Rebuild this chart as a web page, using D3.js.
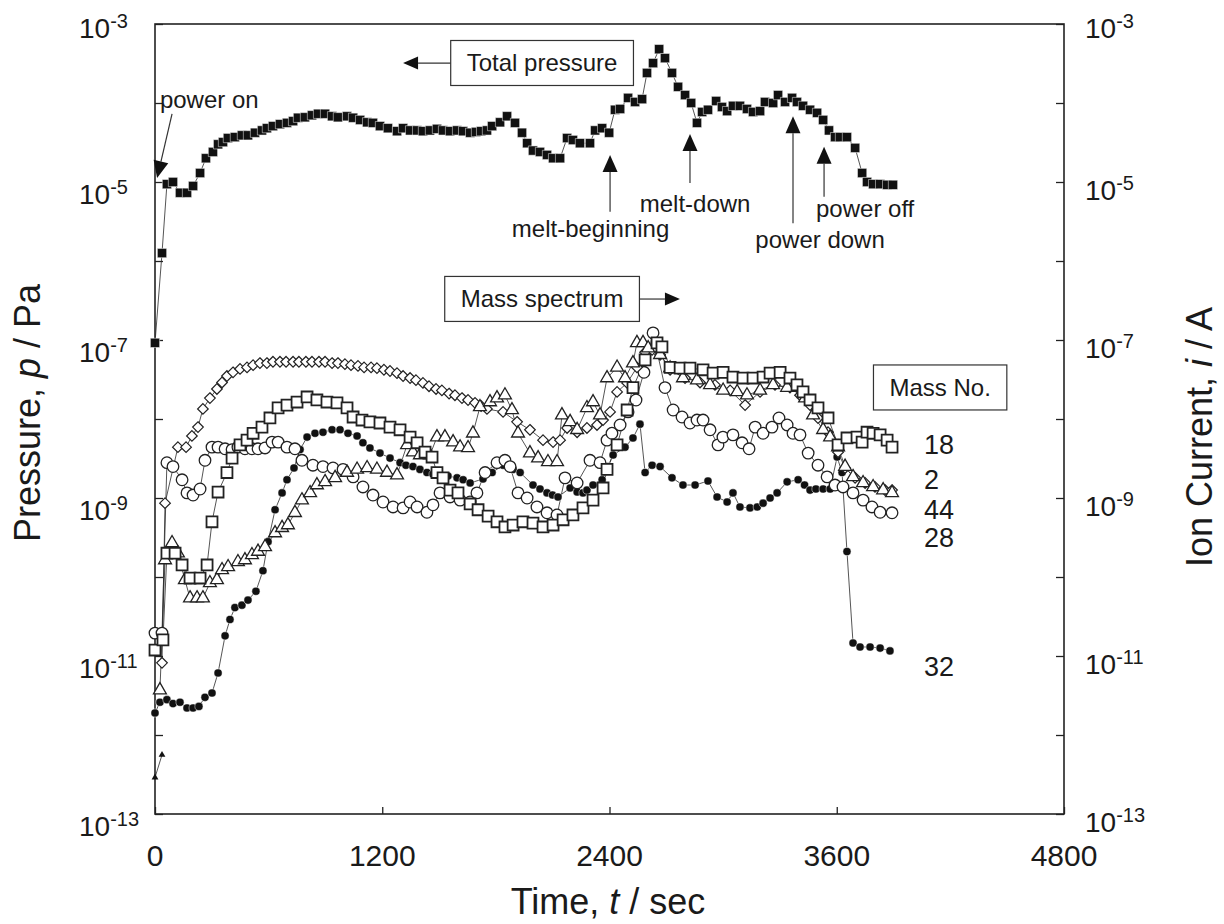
<!DOCTYPE html>
<html lang="en">
<head>
<meta charset="utf-8">
<script src="https://d3js.org/d3.v7.min.js"></script>
<style>
  body { margin:0; background:#fff; font-family:"Liberation Sans", Arial, Helvetica, sans-serif; }
  svg { display:block; background:#fff; }
  text { fill:#1a1a1a; }
  .frame { fill:none; stroke:#222; stroke-width:1.6; }
  .axis .domain { display:none; }
  .axis .tick line { stroke:#222; stroke-width:1.3; }
  .series-line { fill:none; stroke:#2a2a2a; stroke-width:0.8; }
  .note-line { stroke:#333; stroke-width:1.2; fill:none; }
  .note-head { fill:#111; stroke:none; }
  .box { fill:#fff; stroke:#333; stroke-width:1.2; }
</style>
</head>
<body>
<script>
// ---- data (time in s, pressure in Pa, ion current in A) ----
var totalT = [0,37,63,95,132,169,201,238,269,306,333,359,385,422,459,491,528,565,591,623,660,697,729,755,792,829,861,898,935,966,1014,1046,1083,1120,1151,1188,1230,1278,1310,1347,1384,1415,1452,1489,1521,1558,1595,1627,1664,1695,1722,1753,1780,1822,1859,1901,1938,1965,1996,2033,2070,2102,2139,2176,2207,2244,2297,2324,2361,2398,2429,2456,2498,2535,2572,2598,2630,2662,2693,2730,2762,2799,2831,2862,2889,2920,2963,2994,3021,3052,3089,3126,3158,3195,3221,3264,3290,3327,3364,3390,3422,3459,3496,3528,3559,3591,3617,3654,3697,3734,3760,3792,3829,3866,3897];
var totalP = [9.2e-8,1.26e-6,9.4e-6,1.0e-5,7.3e-6,7.3e-6,8.9e-6,1.3e-5,2.0e-5,2.4e-5,
  3.0e-5,3.2e-5,3.6e-5,3.7e-5,3.9e-5,3.9e-5,4.2e-5,4.5e-5,4.8e-5,5.1e-5,
  5.4e-5,5.6e-5,5.9e-5,6.5e-5,6.6e-5,7.0e-5,7.3e-5,7.3e-5,6.8e-5,6.6e-5,
  6.8e-5,6.5e-5,6.1e-5,5.7e-5,5.6e-5,5.1e-5,4.8e-5,4.4e-5,4.8e-5,4.5e-5,
  4.5e-5,4.4e-5,4.5e-5,4.7e-5,4.5e-5,4.4e-5,4.5e-5,4.4e-5,4.2e-5,4.3e-5,
  4.4e-5,4.5e-5,5.1e-5,5.7e-5,6.8e-5,5.6e-5,4.2e-5,3.1e-5,2.5e-5,2.4e-5,
  2.2e-5,2.0e-5,2.0e-5,3.6e-5,3.4e-5,3.1e-5,3.1e-5,4.5e-5,4.8e-5,4.2e-5,
  8.2e-5,8.4e-5,1.16e-4,1.03e-4,1.12e-4,2.4e-4,3.2e-4,4.8e-4,3.7e-4,2.4e-4,
  1.6e-4,1.26e-4,1.0e-4,5.6e-5,7.7e-5,8.2e-5,1.06e-4,8.9e-5,7.9e-5,9.2e-5,
  9.2e-5,8.4e-5,7.7e-5,7.9e-5,1.03e-4,1.0e-4,1.26e-4,1.03e-4,1.16e-4,1.03e-4,
  9.2e-5,8.2e-5,7.5e-5,6.1e-5,4.5e-5,3.7e-5,3.7e-5,3.7e-5,2.7e-5,1.3e-5,
  1.0e-5,9.4e-6,9.4e-6,9.2e-6,9.2e-6];

// mass 18 (open squares)
var m18T = [0,42,63,106,143,185,238,275,301,333,380,407,449,486,518,565,607,650,697,750,803,855,908,961,1014,1046,1093,1135,1188,1241,1294,1347,1384,1426,1463,1489,1521,1558,1600,1664,1706,1759,1806,1848,1891,1943,1996,2049,2102,2155,2207,2260,2313,2366,2387,2440,2493,2524,2588,2651,2677,2720,2773,2825,2894,2947,3000,3052,3105,3158,3211,3248,3301,3353,3390,3422,3459,3501,3554,3607,3654,3707,3734,3760,3792,3829,3866,3892];
var m18I = [1.19e-11,1.6e-11,2.0e-10,2.0e-10,1.42e-10,9.7e-11,9.7e-11,1.42e-10,5.0e-10,1.19e-9,2.1e-9,3.2e-9,4.7e-9,5.4e-9,6.6e-9,7.9e-9,1.03e-8,1.38e-8,1.5e-8,1.64e-8,1.9e-8,1.74e-8,1.64e-8,1.6e-8,1.38e-8,1.06e-8,9.7e-9,9.2e-9,8.9e-9,7.9e-9,7.3e-9,5.9e-9,5.0e-9,3.8e-9,3.3e-9,2.1e-9,1.8e-9,1.26e-9,1.16e-9,8.4e-10,7.1e-10,5.9e-10,5.0e-10,4.3e-10,4.55e-10,5.0e-10,4.8e-10,4.3e-10,4.55e-10,5.3e-10,6.1e-10,7.5e-10,9.4e-10,1.34e-9,2.3e-9,4.7e-9,1.3e-8,2.5e-8,5.6e-8,9.2e-8,8.2e-8,4.5e-8,4.4e-8,4.4e-8,4.2e-8,3.8e-8,3.9e-8,3.4e-8,3.3e-8,3.3e-8,3.4e-8,3.8e-8,3.9e-8,3.3e-8,2.7e-8,2.2e-8,1.74e-8,1.38e-8,1.03e-8,4.7e-9,5.75e-9,5.9e-9,5.1e-9,6.8e-9,6.6e-9,6.3e-9,5.4e-9,4.4e-9];

// mass 2 (open diamonds)
var m2T = [37,53,121,164,195,227,253,290,327,354,380,412,449,486,518,554,591,623,660,692,729,760,797,829,866,898,935,966,1003,1035,1072,1104,1141,1172,1209,1241,1278,1310,1347,1378,1415,1447,1484,1515,1553,1584,1621,1653,1690,1722,1753,1838,1912,1980,2049,2102,2139,2176,2229,2281,2334,2366,2403,2440,2493,2545,2588,2625,2667,2720,2799,2878,2957,3037,3116,3195,3274,3353,3406,3459,3501,3554,3607,3644,3697,3750,3802,3855,3892];
var m2I = [8.2e-12,8.6e-10,4.4e-9,4.4e-9,6.1e-9,7.9e-9,1.34e-8,1.84e-8,2.4e-8,2.9e-8,3.5e-8,3.9e-8,4.3e-8,4.5e-8,4.8e-8,5.1e-8,5.1e-8,5.3e-8,5.3e-8,5.3e-8,5.3e-8,5.3e-8,5.3e-8,5.3e-8,5.3e-8,5.3e-8,5.1e-8,5.1e-8,4.95e-8,4.8e-8,4.7e-8,4.5e-8,4.5e-8,4.4e-8,4.2e-8,4.05e-8,3.8e-8,3.5e-8,3.3e-8,3.1e-8,2.86e-8,2.6e-8,2.4e-8,2.3e-8,2.1e-8,2.0e-8,1.84e-8,1.74e-8,1.6e-8,1.46e-8,1.34e-8,1.23e-8,9.2e-9,7.3e-9,5.4e-9,5.1e-9,5.4e-9,7.7e-9,6.8e-9,7.7e-9,8.4e-9,9.7e-9,1.23e-8,2.2e-8,2.86e-8,4.5e-8,7.0e-8,7.5e-8,6.5e-8,4.2e-8,3.3e-8,2.9e-8,2.7e-8,2.3e-8,1.5e-8,2.2e-8,2.7e-8,2.5e-8,2.0e-8,1.5e-8,1.03e-8,6.8e-9,3.8e-9,2.4e-9,1.8e-9,1.55e-9,1.38e-9,1.26e-9,1.26e-9];

// mass 44 (open triangles)
var m44T = [26,53,90,121,158,185,222,253,290,327,354,386,438,475,512,544,581,634,671,702,739,776,819,855,898,951,1014,1067,1120,1172,1225,1278,1331,1362,1399,1452,1489,1531,1574,1611,1653,1679,1716,1769,1806,1848,1885,1917,1980,2023,2075,2123,2149,2192,2229,2281,2313,2350,2387,2440,2482,2524,2545,2577,2604,2667,2720,2788,2862,2931,3000,3074,3126,3195,3264,3338,3396,3433,3475,3528,3565,3607,3644,3686,3739,3792,3845,3892];
var m44I = [3.7e-12,1.64e-10,2.7e-10,2.0e-10,9.2e-11,5.4e-11,5.4e-11,5.4e-11,8.4e-11,9.2e-11,1.23e-10,1.34e-10,1.55e-10,1.64e-10,1.9e-10,2.1e-10,2.4e-10,3.6e-10,4.2e-10,4.55e-10,6.5e-10,9.4e-10,1.16e-9,1.46e-9,1.6e-9,1.8e-9,2.1e-9,2.3e-9,2.4e-9,2.3e-9,2.1e-9,1.95e-9,4.7e-9,3.8e-9,3.5e-9,3.5e-9,5.9e-9,5.9e-9,5.1e-9,4.4e-9,4.3e-9,6.6e-9,1.42e-8,1.64e-8,1.84e-8,2.0e-8,1.3e-8,6.6e-9,3.7e-9,3.2e-9,2.86e-9,2.86e-9,1.12e-8,9.2e-9,7.3e-9,1.38e-8,1.64e-8,1.12e-8,3.3e-8,4.5e-8,3.3e-8,5.1e-8,9.2e-8,9.2e-8,7.9e-8,6.5e-8,4.4e-8,3.3e-8,3.1e-8,2.7e-8,2.3e-8,2.2e-8,2.0e-8,2.3e-8,2.7e-8,2.5e-8,2.5e-8,1.84e-8,1.12e-8,7.3e-9,5.9e-9,4.4e-9,2.5e-9,1.85e-9,1.55e-9,1.38e-9,1.26e-9,1.16e-9];

// mass 28 (open circles)
var m28T = [0,37,63,95,143,169,201,238,264,301,333,370,407,438,475,512,544,581,618,650,697,739,776,834,887,940,993,1046,1098,1151,1204,1257,1310,1347,1384,1436,1468,1505,1558,1611,1664,1700,1743,1806,1848,1875,1917,1965,2017,2070,2123,2165,2229,2297,2350,2387,2413,2456,2498,2540,2582,2630,2693,2736,2783,2825,2862,2894,2931,2973,2999,3052,3100,3137,3169,3211,3258,3295,3338,3369,3406,3449,3501,3549,3591,3633,3686,3739,3786,3829,3892];
var m28I = [1.95e-11,1.95e-11,2.8e-9,2.5e-9,1.7e-9,1.16e-9,1.09e-9,1.3e-9,3.0e-9,4.4e-9,4.4e-9,4.2e-9,4.1e-9,4.4e-9,4.2e-9,4.2e-9,4.2e-9,4.3e-9,5.1e-9,5.1e-9,4.4e-9,4.2e-9,3.0e-9,2.6e-9,2.5e-9,2.4e-9,2.3e-9,1.85e-9,1.38e-9,1.09e-9,8.9e-10,7.7e-10,7.5e-10,8.9e-10,7.7e-10,6.6e-10,8.2e-10,1.16e-9,1.03e-9,9.4e-10,8.9e-10,1.16e-9,2.1e-9,2.8e-9,3.0e-9,2.5e-9,1.16e-9,1.0e-9,7.7e-10,6.5e-10,6.1e-10,1.8e-9,1.55e-9,3.0e-9,2.8e-9,5.4e-9,6.6e-9,8.4e-9,1.23e-8,1.74e-8,3.9e-8,1.23e-7,2.5e-8,1.3e-8,1.06e-8,8.9e-9,9.7e-9,9.7e-9,7.3e-9,4.7e-9,5.9e-9,6.3e-9,5.0e-9,4.2e-9,7.9e-9,6.6e-9,7.9e-9,1.03e-8,8.4e-9,6.6e-9,6.3e-9,3.7e-9,2.6e-9,1.85e-9,1.46e-9,1.38e-9,1.16e-9,9.4e-10,7.7e-10,6.6e-10,6.5e-10];

// mass 32 (filled circles)
var m32T = [0,26,63,95,132,169,201,232,264,301,333,370,396,422,459,491,533,570,597,634,671,697,734,766,803,845,887,935,977,1019,1067,1098,1135,1188,1241,1294,1325,1362,1399,1436,1468,1505,1547,1595,1627,1664,1732,1780,1838,1891,1928,1996,2033,2070,2099,2128,2192,2229,2260,2281,2313,2361,2392,2419,2482,2524,2561,2588,2625,2667,2730,2788,2852,2920,2968,3021,3052,3089,3142,3180,3211,3248,3285,3338,3396,3430,3459,3490,3528,3565,3602,3628,3654,3686,3723,3776,3829,3881];
var m32I = [1.9e-12,2.6e-12,2.8e-12,2.5e-12,2.6e-12,2.2e-12,2.2e-12,2.3e-12,3.0e-12,3.4e-12,6.1e-12,1.8e-11,2.9e-11,4.1e-11,4.4e-11,5.1e-11,6.6e-11,1.2e-10,2.8e-10,7.1e-10,1.16e-9,1.7e-9,2.4e-9,4.1e-9,5.9e-9,6.6e-9,6.8e-9,7.3e-9,7.3e-9,6.6e-9,6.1e-9,5.0e-9,4.3e-9,3.7e-9,3.2e-9,2.8e-9,2.6e-9,2.5e-9,2.3e-9,2.1e-9,2.0e-9,1.95e-9,1.9e-9,1.8e-9,1.7e-9,1.55e-9,1.74e-9,2.1e-9,2.6e-9,2.3e-9,2.1e-9,1.46e-9,1.3e-9,1.16e-9,1.09e-9,1.03e-9,1.34e-9,1.19e-9,1.16e-9,1.26e-9,1.46e-9,1.7e-9,2.5e-9,3.5e-9,4.4e-9,5.75e-9,8.6e-9,2.1e-9,2.6e-9,2.5e-9,1.8e-9,1.46e-9,1.46e-9,1.64e-9,1.03e-9,8.9e-10,1.16e-9,7.7e-10,7.5e-10,7.7e-10,8.6e-10,1.0e-9,1.16e-9,1.6e-9,1.7e-9,1.46e-9,1.26e-9,1.3e-9,1.3e-9,1.3e-9,3.3e-9,2.1e-9,2.1e-10,1.46e-11,1.3e-11,1.3e-11,1.26e-11,1.16e-11];

// two small filled triangles near the origin
var extraT = [0,37];
var extraI = [2.9e-13,5.6e-13];

// ticks / labels
var xTicks = [0,1200,2400,3600,4800];
var yLabelExp = [-3,-5,-7,-9,-11,-13];
var massLabels = ["18","2","44","28","32"];
var massLabelI = [4.7e-9,1.7e-9,7.1e-10,3.2e-10,7.3e-12];

// ---- chart ----
var width = 1224, height = 924;
var margin = {top:24, right:160, bottom:110, left:155};

var svg = d3.select("body").append("svg").attr("width", width).attr("height", height);

var x = d3.scaleLinear().domain([0, 4800]).range([margin.left, width - margin.right]);
var y = d3.scaleLog().domain([1e-13, 1e-3]).range([height - margin.bottom, margin.top]);
var decades = d3.range(-13, -2).map(function(e){ return Math.pow(10, e); });

// axes: ticks point inward
svg.append("g").attr("class", "axis")
  .attr("transform", "translate(0," + y.range()[0] + ")")
  .call(d3.axisBottom(x).tickValues(xTicks).tickSize(-7).tickFormat(""));
svg.append("g").attr("class", "axis")
  .attr("transform", "translate(" + x.range()[0] + ",0)")
  .call(d3.axisLeft(y).tickValues(decades).tickSize(-8).tickFormat(""));
svg.append("g").attr("class", "axis")
  .attr("transform", "translate(" + x.range()[1] + ",0)")
  .call(d3.axisRight(y).tickValues(decades).tickSize(-8).tickFormat(""));

svg.append("rect").attr("class", "frame")
  .attr("x", x.range()[0]).attr("y", y.range()[1])
  .attr("width", x.range()[1] - x.range()[0])
  .attr("height", y.range()[0] - y.range()[1]);

// x tick labels
svg.append("g").selectAll("text").data(xTicks).enter().append("text")
  .attr("x", function(d){ return x(d); })
  .attr("y", y.range()[0] + 52)
  .attr("text-anchor", "middle")
  .style("font-size", "30px")
  .text(function(d){ return d; });

// y tick labels (10 with superscript exponent), both sides
function powLabels(xpos, shift) {
  var g = svg.append("g").selectAll("text").data(yLabelExp).enter().append("text")
    .attr("x", xpos)
    .attr("y", function(d){ return d === -3 ? y(1e-3) + 14 : y(Math.pow(10, d)) + shift; })
    .style("font-size", "28px");
  g.append("tspan").text("10");
  g.append("tspan").attr("dy", -10).style("font-size", "20px").text(function(d){ return d; });
}
powLabels(79, 22);
powLabels(1085, 18);

// axis titles
var lt = svg.append("text").attr("transform", "translate(40,413) rotate(-90)")
  .attr("text-anchor", "middle").style("font-size", "36px");
lt.append("tspan").text("Pressure, ");
lt.append("tspan").style("font-style", "italic").text("p");
lt.append("tspan").text(" / Pa");

var rt = svg.append("text").attr("transform", "translate(1212,437) rotate(-90)")
  .attr("text-anchor", "middle").style("font-size", "36px");
rt.append("tspan").text("Ion Current, ");
rt.append("tspan").style("font-style", "italic").text("i");
rt.append("tspan").text(" / A");

var bt = svg.append("text").attr("x", 608).attr("y", 914)
  .attr("text-anchor", "middle").style("font-size", "36px");
bt.append("tspan").text("Time, ");
bt.append("tspan").style("font-style", "italic").text("t");
bt.append("tspan").text(" / sec");

// ---- series ----
function zip(ts, vs) { return ts.map(function(t, i){ return {t:t, v:vs[i]}; }); }

var series = [
  {data: zip(extraT, extraI), type: d3.symbolTriangle, size: 20, fill: "#111", stroke: "none", sw: 0},
  {data: zip(m32T, m32I), type: d3.symbolCircle, size: 52, fill: "#111", stroke: "#fff", sw: 0.5},
  {data: zip(m28T, m28I), type: d3.symbolCircle, size: 105, fill: "#fff", stroke: "#222", sw: 1.3},
  {data: zip(m2T, m2I), type: d3.symbolDiamond2, size: 72, fill: "#fff", stroke: "#222", sw: 1.2},
  {data: zip(m44T, m44I), type: d3.symbolTriangle, size: 72, fill: "#fff", stroke: "#222", sw: 1.3},
  {data: zip(m18T, m18I), type: d3.symbolSquare, size: 120, fill: "#fff", stroke: "#222", sw: 1.8},
  {data: zip(totalT, totalP), type: d3.symbolSquare, size: 86, fill: "#111", stroke: "#fff", sw: 0.5}
];

var line = d3.line().x(function(d){ return x(d.t); }).y(function(d){ return y(d.v); });

// connecting lines first, markers on top
svg.append("g").selectAll("path").data(series).enter().append("path")
  .attr("class", "series-line")
  .attr("d", function(s){ return line(s.data); });

series.forEach(function(s){
  svg.append("g").selectAll("path").data(s.data).enter().append("path")
    .attr("transform", function(d){ return "translate(" + x(d.t) + "," + y(d.v) + ")"; })
    .attr("d", d3.symbol().type(s.type).size(s.size))
    .attr("fill", s.fill)
    .attr("stroke", s.stroke)
    .attr("stroke-width", s.sw);
});

// ---- annotations ----
function arrow(x1, y1, x2, y2, len, half) {
  var dx = x2 - x1, dy = y2 - y1, l = Math.sqrt(dx*dx + dy*dy);
  var ux = dx / l, uy = dy / l;
  var bx = x2 - ux*len, by = y2 - uy*len;
  svg.append("line").attr("class", "note-line")
    .attr("x1", x1).attr("y1", y1).attr("x2", bx).attr("y2", by);
  svg.append("path").attr("class", "note-head")
    .attr("d", "M" + x2 + "," + y2 +
      "L" + (bx - uy*half) + "," + (by + ux*half) +
      "L" + (bx + uy*half) + "," + (by - ux*half) + "Z");
}

var notes = [
  {text:"power on", t:26, p:8.6e-5, anchor:"start", from:[90, 7.3e-5], to:[11, 1.12e-5]},
  {text:"melt-beginning", t:2300, p:2.0e-6, anchor:"middle", from:[2403, 4.2e-6], to:[2403, 2.2e-5]},
  {text:"melt-down", t:2852, p:4.2e-6, anchor:"middle", from:[2825, 9.7e-6], to:[2825, 4.05e-5]},
  {text:"power down", t:3512, p:1.46e-6, anchor:"middle", from:[3369, 3.0e-6], to:[3369, 6.8e-5]},
  {text:"power off", t:3750, p:3.6e-6, anchor:"middle", from:[3533, 6.5e-6], to:[3533, 2.8e-5]}
];
notes.forEach(function(n){
  svg.append("text").attr("x", x(n.t)).attr("y", y(n.p))
    .attr("text-anchor", n.anchor).style("font-size", "24px").text(n.text);
  arrow(x(n.from[0]), y(n.from[1]), x(n.to[0]), y(n.to[1]), 17, 7.5);
});

var boxes = [
  {text:"Total pressure", t:2044, p:3.2e-4, arrowTo:1310},
  {text:"Mass spectrum", t:2044, p:3.3e-7, arrowTo:2772},
  {text:"Mass No.", t:4146, p:2.5e-8}
];
boxes.forEach(function(b){
  var g = svg.append("g");
  var r = g.append("rect").attr("class", "box");
  var t = g.append("text").attr("x", x(b.t)).attr("y", y(b.p)).attr("dy", "0.35em")
    .attr("text-anchor", "middle").style("font-size", "24px").text(b.text);
  var bb = t.node().getBBox();
  r.attr("x", bb.x - 16).attr("y", bb.y - 9).attr("width", bb.width + 32).attr("height", bb.height + 18);
  if (b.arrowTo !== undefined) {
    var tip = x(b.arrowTo);
    var edge = tip < x(b.t) ? bb.x - 16 : bb.x + bb.width + 16;
    arrow(edge, y(b.p), tip, y(b.p), 15, 6.5);
  }
});

svg.append("g").selectAll("text").data(massLabels).enter().append("text")
  .attr("x", x(4061))
  .attr("y", function(d, i){ return y(massLabelI[i]); })
  .attr("dy", "0.35em")
  .style("font-size", "27px")
  .text(function(d){ return d; });
</script>
</body>
</html>
